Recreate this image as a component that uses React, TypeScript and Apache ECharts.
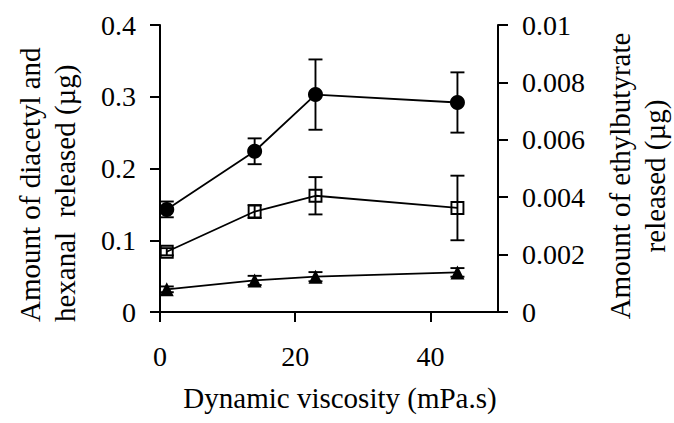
import React, { useEffect, useRef } from "react";
import * as echarts from "echarts";

const viscosity = [1, 14, 23, 44];
const diacetyl = [0.143, 0.224, 0.303, 0.292];
const diacetylErr = [0.011, 0.018, 0.049, 0.042];
const hexanal = [0.084, 0.14, 0.162, 0.145];
const hexanalErr = [0.005, 0.009, 0.026, 0.045];
const ethylbutyrate = [0.00079, 0.0011, 0.00123, 0.00138];
const ethylbutyrateErr = [0.0001, 0.00016, 0.00016, 0.00015];
const xTicks = [0, 20, 40];

const FONT = "'Liberation Serif', 'Times New Roman', serif";

function errData(vals: number[], errs: number[]) {
  return viscosity.map((x, i) => [x, vals[i] - errs[i], vals[i] + errs[i]]);
}

function errSeries(vals: number[], errs: number[], yAxisIndex: number) {
  return {
    type: "custom",
    yAxisIndex,
    z: 1,
    silent: true,
    data: errData(vals, errs),
    renderItem: (params: any, api: any) => {
      const x = api.value(0);
      const lo = api.coord([x, api.value(1)]);
      const hi = api.coord([x, api.value(2)]);
      const hw = 7;
      const style = { stroke: "#000", lineWidth: 1.9 };
      return {
        type: "group",
        children: [
          { type: "line", shape: { x1: lo[0], y1: lo[1], x2: hi[0], y2: hi[1] }, style },
          { type: "line", shape: { x1: hi[0] - hw, y1: hi[1], x2: hi[0] + hw, y2: hi[1] }, style },
          { type: "line", shape: { x1: lo[0] - hw, y1: lo[1], x2: lo[0] + hw, y2: lo[1] }, style },
        ],
      };
    },
  };
}

function lineSeries(name: string, vals: number[], yAxisIndex: number, symbol: string, size: number, fill: string) {
  return {
    name,
    type: "line",
    yAxisIndex,
    z: 3,
    data: viscosity.map((x, i) => [x, vals[i]]),
    symbol,
    symbolSize: size,
    showSymbol: true,
    lineStyle: { color: "#000", width: 1.8 },
    itemStyle: { color: fill, borderColor: "#000", borderWidth: fill === "#000" ? 0 : 1.9 },
  };
}

export default function App() {
  const ref = useRef<HTMLDivElement>(null);
  useEffect(() => {
    if (!ref.current) return;
    const chart = echarts.init(ref.current, null, { renderer: "svg" });
    const axisLine = { show: true, lineStyle: { color: "#000", width: 2 } };
    const axisTick = { show: true, inside: false, length: 10, lineStyle: { color: "#000", width: 2 } };
    const axisLabelBase = { color: "#000", fontFamily: FONT, fontSize: 28 };
    chart.setOption({
      animation: false,
      backgroundColor: "#fff",
      grid: { left: 160, top: 25, width: 338, height: 287, containLabel: false },
      xAxis: {
        type: "value",
        min: 0,
        max: 50,
        interval: 10,
        axisLine,
        axisTick: { ...axisTick, customValues: xTicks },
        axisLabel: { ...axisLabelBase, margin: 30, customValues: xTicks },
        splitLine: { show: false },
      },
      yAxis: [
        {
          type: "value",
          position: "left",
          min: 0,
          max: 0.4,
          interval: 0.1,
          axisLine,
          axisTick,
          axisLabel: { ...axisLabelBase, margin: 24 },
          splitLine: { show: false },
        },
        {
          type: "value",
          position: "right",
          min: 0,
          max: 0.01,
          interval: 0.002,
          axisLine,
          axisTick,
          axisLabel: { ...axisLabelBase, margin: 24 },
          splitLine: { show: false },
        },
      ],
      graphic: [
        {
          type: "text",
          x: 340,
          y: 398,
          style: {
            text: "Dynamic viscosity (mPa.s)",
            fontFamily: FONT,
            fontSize: 29,
            fill: "#000",
            align: "center",
            verticalAlign: "middle",
          },
        },
        {
          type: "text",
          x: 47,
          y: 322,
          rotation: Math.PI / 2,
          style: {
            text: "Amount of diacetyl and\nhexanal  released (\u00b5g)",
            fontFamily: FONT,
            fontSize: 29,
            lineHeight: 35,
            fill: "#000",
            align: "left",
            verticalAlign: "middle",
          },
        },
        {
          type: "text",
          x: 637,
          y: 176,
          rotation: Math.PI / 2,
          style: {
            text: "Amount of ethylbutyrate\nreleased (\u00b5g)",
            fontFamily: FONT,
            fontSize: 29,
            lineHeight: 35,
            fill: "#000",
            align: "center",
            verticalAlign: "middle",
          },
        },
      ],
      series: [
        errSeries(diacetyl, diacetylErr, 0),
        errSeries(hexanal, hexanalErr, 0),
        errSeries(ethylbutyrate, ethylbutyrateErr, 1),
        lineSeries("Diacetyl", diacetyl, 0, "circle", 15, "#000"),
        lineSeries("Hexanal", hexanal, 0, "rect", 12, "transparent"),
        lineSeries("Ethylbutyrate", ethylbutyrate, 1, "triangle", 14, "#000"),
      ],
    });
    return () => chart.dispose();
  }, []);
  return (
    <div
      ref={ref}
      style={{ position: "fixed", left: 0, top: 0, width: 674, height: 423, background: "#fff" }}
    />
  );
}
